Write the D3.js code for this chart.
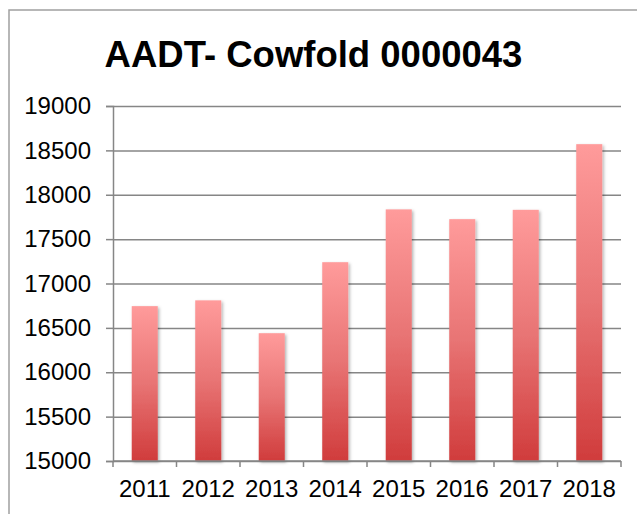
<!DOCTYPE html>
<html>
<head>
<meta charset="utf-8">
<script src="https://cdn.jsdelivr.net/npm/d3@7"></script>
<style>
  body { margin: 0; background: #fff; }
  svg { display: block; font-family: Arial, "Liberation Sans", sans-serif; }
  .tick text { font-size: 24px; fill: #000; }
  .grid line { stroke: #868686; stroke-width: 1.5; }
  .grid .domain { display: none; }
</style>
</head>
<body>
<div id="chart"></div>
<script>
  const years = ['2011', '2012', '2013', '2014', '2015', '2016', '2017', '2018'];
  const aadt = [16745, 16810, 16440, 17240, 17835, 17725, 17830, 18570];
  const yTicks = [15000, 15500, 16000, 16500, 17000, 17500, 18000, 18500, 19000];

  const W = 637, H = 514;
  const plotLeft = 113, plotRight = 621, plotTop = 106, plotBottom = 461;

  const svg = d3.select('#chart').append('svg')
    .attr('width', W)
    .attr('height', H);

  // outer chart frame (top and left edges visible)
  svg.append('path')
    .attr('d', `M9,${H} L9,10 L${W},10`)
    .attr('fill', 'none')
    .attr('stroke', '#a0a0a0')
    .attr('stroke-width', 1.5);

  const defs = svg.append('defs');
  const grad = defs.append('linearGradient')
    .attr('id', 'barFill')
    .attr('x1', 0).attr('y1', 0).attr('x2', 0).attr('y2', 1);
  grad.append('stop').attr('offset', '0%').attr('stop-color', '#ff9b9b');
  grad.append('stop').attr('offset', '50%').attr('stop-color', '#e87474');
  grad.append('stop').attr('offset', '100%').attr('stop-color', '#d03c3c');

  const shadow = defs.append('filter')
    .attr('id', 'shadow')
    .attr('x', '-30%').attr('y', '-10%').attr('width', '160%').attr('height', '120%');
  shadow.append('feDropShadow')
    .attr('dx', 1.5).attr('dy', 1.5)
    .attr('stdDeviation', 1.5)
    .attr('flood-color', '#000')
    .attr('flood-opacity', 0.3);

  const xScale = d3.scaleBand()
    .domain(years)
    .range([plotLeft, plotRight])
    .paddingInner(0.59)
    .paddingOuter(0.295);

  const yScale = d3.scaleLinear()
    .domain([15000, 19000])
    .range([plotBottom, plotTop]);

  // horizontal grid lines
  svg.append('g')
    .attr('class', 'grid')
    .attr('transform', `translate(${plotLeft}, 0)`)
    .call(d3.axisLeft(yScale)
      .tickValues(yTicks)
      .tickSize(-(plotRight - plotLeft))
      .tickFormat(''));

  // bars
  svg.append('g')
    .selectAll('rect')
    .data(years)
    .enter()
    .append('rect')
    .attr('x', (d) => xScale(d))
    .attr('y', (d, i) => yScale(aadt[i]))
    .attr('width', xScale.bandwidth())
    .attr('height', (d, i) => plotBottom - yScale(aadt[i]))
    .attr('fill', 'url(#barFill)')
    .attr('filter', 'url(#shadow)');

  // y axis
  const yAxis = svg.append('g')
    .attr('transform', `translate(${plotLeft}, 0)`)
    .call(d3.axisLeft(yScale)
      .tickValues(yTicks)
      .tickSize(7)
      .tickPadding(15)
      .tickFormat(d3.format('d')));
  yAxis.selectAll('line, .domain').attr('stroke', '#868686').attr('stroke-width', 1.5);

  // x axis with ticks between categories
  const xBoundaries = d3.scaleLinear().domain([0, years.length]).range([plotLeft, plotRight]);
  const xAxis = svg.append('g')
    .attr('transform', `translate(0, ${plotBottom})`);
  xAxis.append('line')
    .attr('x1', plotLeft).attr('x2', plotRight)
    .attr('stroke', '#868686').attr('stroke-width', 1.5);
  xAxis.selectAll('.xtick')
    .data(d3.range(years.length + 1))
    .enter()
    .append('line')
    .attr('x1', (d) => xBoundaries(d)).attr('x2', (d) => xBoundaries(d))
    .attr('y1', 0).attr('y2', 6)
    .attr('stroke', '#868686').attr('stroke-width', 1.5);
  xAxis.selectAll('.xlabel')
    .data(years)
    .enter()
    .append('text')
    .attr('x', (d) => xScale(d) + xScale.bandwidth() / 2)
    .attr('y', 36)
    .attr('text-anchor', 'middle')
    .attr('font-size', 24)
    .text((d) => d);

  svg.append('text')
    .attr('x', 313.5)
    .attr('y', 67)
    .attr('text-anchor', 'middle')
    .attr('font-size', 36.5)
    .attr('font-weight', 'bold')
    .text('AADT- Cowfold 0000043');
</script>
</body>
</html>
